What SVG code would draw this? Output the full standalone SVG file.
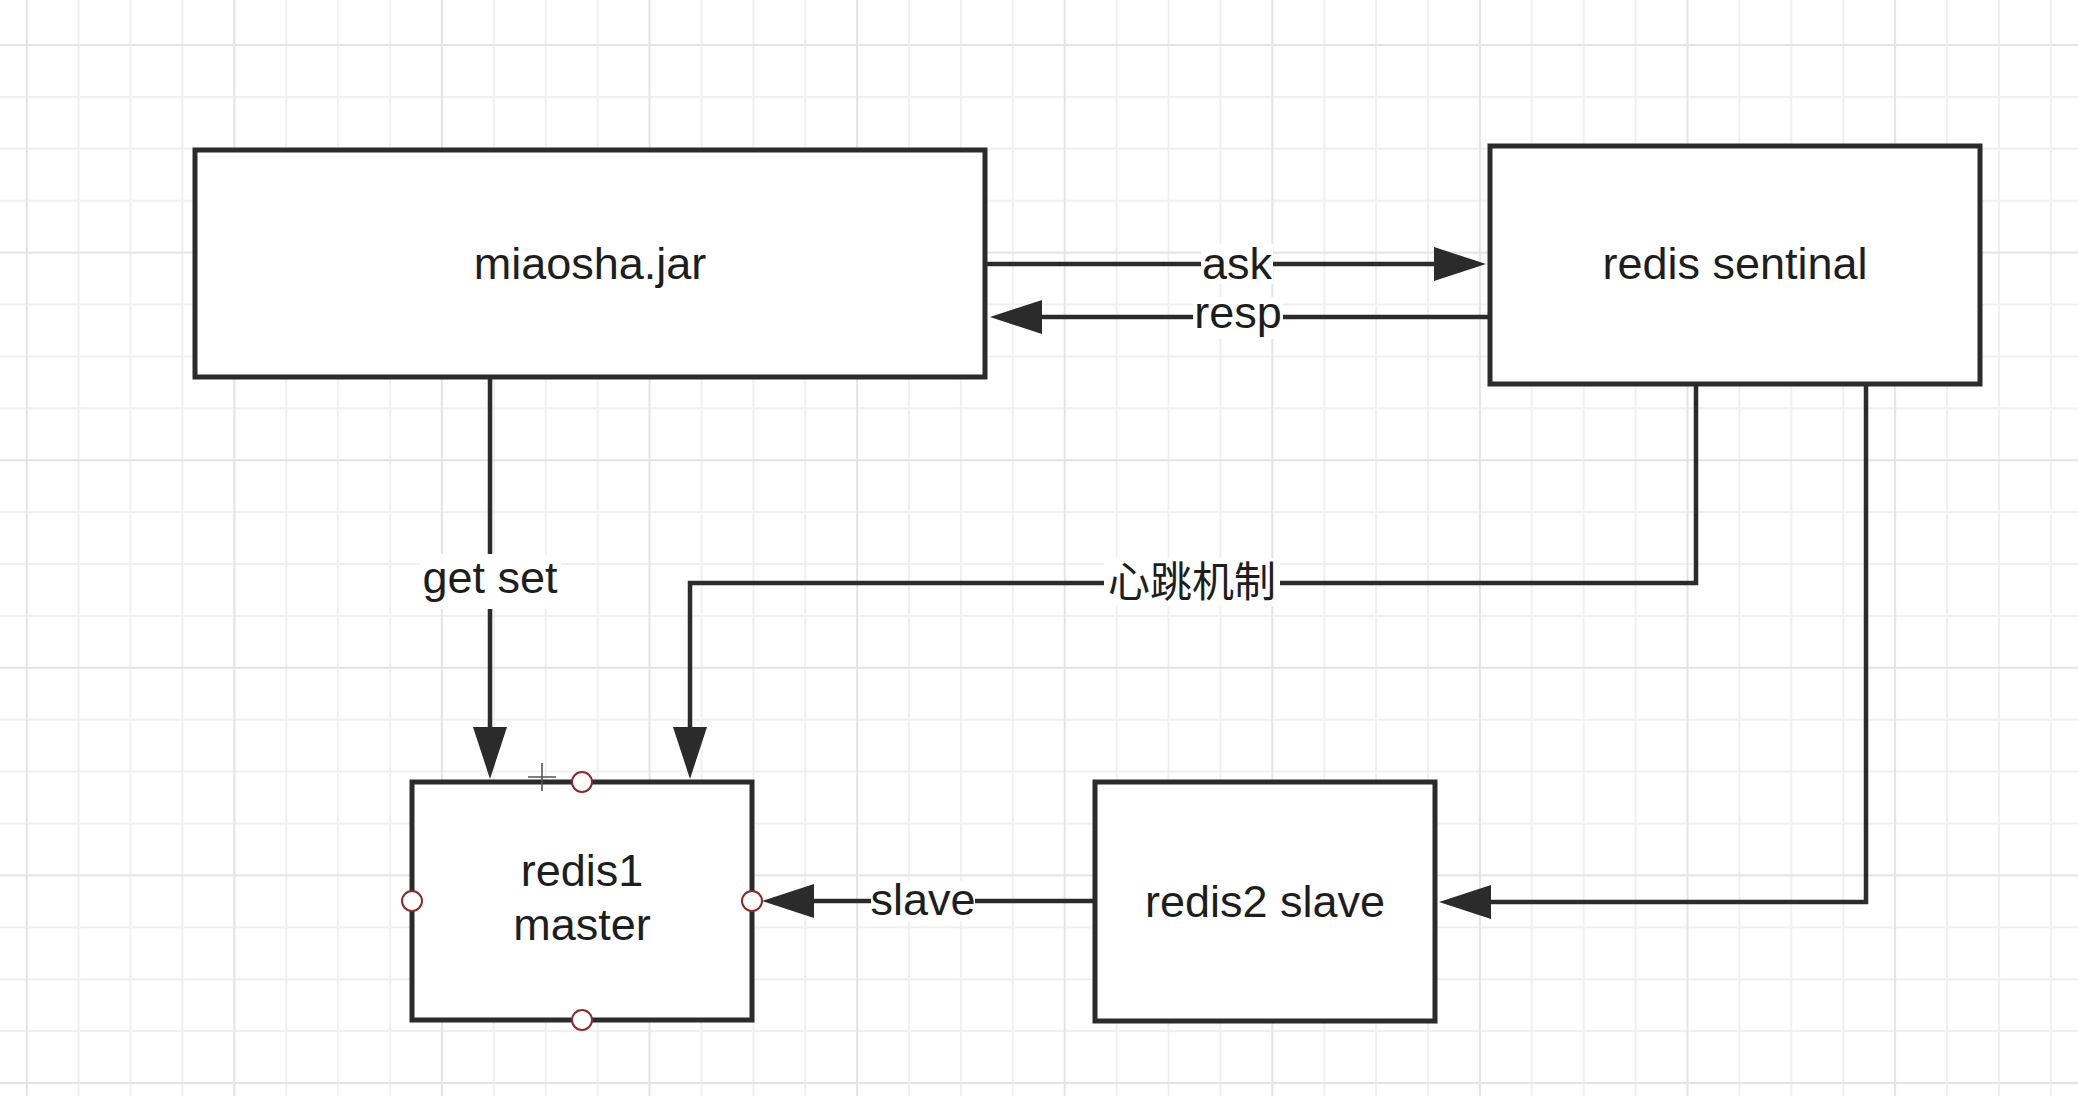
<svg xmlns="http://www.w3.org/2000/svg" width="2078" height="1096" viewBox="0 0 2078 1096">
  <style>
    .node { fill: #ffffff; stroke: #2b2b2b; stroke-width: 5; }
    .lbl { font-family: "Liberation Sans", "Noto Sans CJK SC", Arial, sans-serif; font-size: 45px; fill: #1e1e1e; text-anchor: middle; }
    .cjk { font-family: "Noto Sans CJK SC", "Liberation Sans", sans-serif; font-size: 42px; fill: #1e1e1e; text-anchor: middle; }
    .edge { fill: none; stroke: #2b2b2b; stroke-width: 4.5; }
    .lblbg { fill: #ffffff; }
    .port { fill: #ffffff; stroke: #8b2b2b; stroke-width: 2; }
  </style>
  <defs>
    <pattern id="grid" patternUnits="userSpaceOnUse" x="25.7" y="-59.8" width="207.6" height="207.6">
      <rect x="0" y="0" width="207.6" height="207.6" fill="#ffffff"/>
      <g fill="#f0f0f0">
        <rect x="51.9" y="0" width="2" height="207.6"/>
        <rect x="103.8" y="0" width="2" height="207.6"/>
        <rect x="155.7" y="0" width="2" height="207.6"/>
        <rect x="0" y="0" width="207.6" height="2"/>
        <rect x="0" y="51.9" width="207.6" height="2"/>
        <rect x="0" y="155.7" width="207.6" height="2"/>
      </g>
      <g fill="#e4e4e4">
        <rect x="0" y="0" width="2" height="207.6"/>
        <rect x="0" y="103.8" width="207.6" height="2"/>
      </g>
    </pattern>
    <marker id="arrow" markerUnits="userSpaceOnUse" markerWidth="54" markerHeight="36" refX="2" refY="17" orient="auto">
      <path d="M0,0 L52,17 L0,34 Z" fill="#2b2b2b"/>
    </marker>
  </defs>

  <rect x="0" y="0" width="2078" height="1096" fill="url(#grid)"/>

  <g id="connectors">
    <path class="edge" d="M987,264 H1436" marker-end="url(#arrow)"/>
    <path class="edge" d="M1488,317 H1040" marker-end="url(#arrow)"/>
    <path class="edge" d="M490,377 V729" marker-end="url(#arrow)"/>
    <path class="edge" d="M1696,384 V583 H690 V729" marker-end="url(#arrow)"/>
    <path class="edge" d="M1866,384 V902 H1489" marker-end="url(#arrow)"/>
    <path class="edge" d="M1095,901 H812" marker-end="url(#arrow)"/>

    <g id="label-ask">
      <rect class="lblbg" x="1201" y="244" width="72" height="40"/>
      <text class="lbl" x="1237" y="279">ask</text>
    </g>
    <g id="label-resp">
      <rect class="lblbg" x="1193" y="297" width="90" height="42"/>
      <text class="lbl" x="1238" y="328">resp</text>
    </g>
    <g id="label-getset">
      <rect class="lblbg" x="420" y="554" width="141" height="55"/>
      <text class="lbl" x="490" y="593">get set</text>
    </g>
    <g id="label-heartbeat">
      <rect class="lblbg" x="1104" y="558" width="176" height="48"/>
      <text class="cjk" x="1192" y="597">心跳机制</text>
    </g>
    <g id="label-slave">
      <rect class="lblbg" x="871" y="881" width="104" height="40"/>
      <text class="lbl" x="923" y="915">slave</text>
    </g>
  </g>

  <g id="node-miaosha">
    <rect class="node" x="195" y="150" width="790" height="227"/>
    <text class="lbl" x="590" y="279">miaosha.jar</text>
  </g>

  <g id="node-sentinal">
    <rect class="node" x="1490" y="146" width="490" height="238"/>
    <text class="lbl" x="1735" y="279">redis sentinal</text>
  </g>

  <g id="node-redis1">
    <rect class="node" x="412" y="782" width="340" height="238"/>
    <text class="lbl" x="582" y="886">redis1</text>
    <text class="lbl" x="582" y="940">master</text>
    <circle class="port" cx="582" cy="782" r="10"/>
    <circle class="port" cx="412" cy="901" r="10"/>
    <circle class="port" cx="752" cy="901" r="10"/>
    <circle class="port" cx="582" cy="1020" r="10"/>
  </g>

  <g id="node-redis2">
    <rect class="node" x="1095" y="782" width="340" height="239"/>
    <text class="lbl" x="1265" y="917">redis2 slave</text>
  </g>

  <g id="cursor" stroke="#555555" stroke-width="1.6" fill="none">
    <path d="M528,777 H556 M542,763 V791"/>
  </g>
</svg>
